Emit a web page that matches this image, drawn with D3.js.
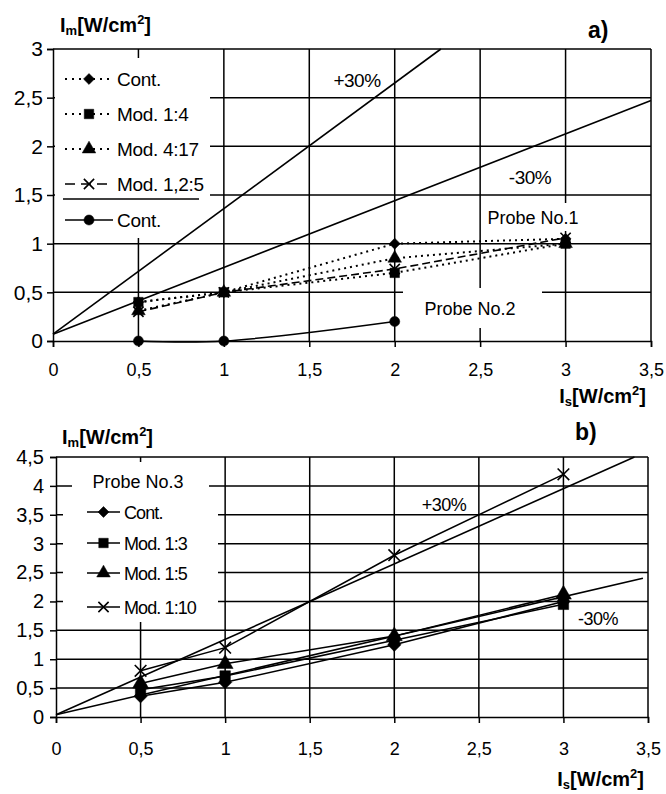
<!DOCTYPE html>
<html>
<head>
<meta charset="utf-8">
<script src="https://cdn.jsdelivr.net/npm/d3@7"></script>
<style>
  body { margin: 0; background: #fff; }
  text { font-family: Arial, "Liberation Sans", sans-serif; fill: #000; }
</style>
</head>
<body>
<div id="chart"></div>
<script>
// ---- data ----
const xTicks = [0, 0.5, 1, 1.5, 2, 2.5, 3, 3.5];
const yTicksA = [0, 0.5, 1, 1.5, 2, 2.5, 3];
const yTicksB = [0, 0.5, 1, 1.5, 2, 2.5, 3, 3.5, 4, 4.5];
const seriesX = [0.5, 1, 2, 3];

// panel a) Probe No.1 / No.2
const a_cont = [0.40, 0.50, 1.00, 1.05];
const a_mod14 = [0.40, 0.50, 0.70, 1.00];
const a_mod417 = [0.31, 0.50, 0.85, 1.00];
const a_mod125 = [0.30, 0.50, 0.74, 1.06];
const a_probe2X = [0.5, 1, 2];
const a_probe2Cont = [0.00, 0.00, 0.20];
const a_plus30 = [[0, 0.07], [2.27, 3.0]];
const a_minus30 = [[0, 0.07], [3.5, 2.47]];

// panel b) Probe No.3
const b_cont = [0.36, 0.60, 1.25, 2.00];
const b_mod13 = [0.47, 0.71, 1.33, 1.95];
const b_mod15 = [0.58, 0.92, 1.40, 2.12];
const b_mod110 = [0.80, 1.20, 2.80, 4.20];
const b_plus30 = [[0, 0.04], [3.42, 4.5]];
const b_minus30 = [[0, 0.04], [3.47, 2.40]];

const fmt = d => String(d).replace(".", ",");

const svg = d3.select("#chart").append("svg")
  .attr("width", 666).attr("height", 794);

function sym(type, size, rotate) {
  return { path: d3.symbol().type(type).size(size)(), rotate: rotate || 0 };
}
const shapes = {
  diamond: sym(d3.symbolSquare, 60, 45),
  square: sym(d3.symbolSquare, 90),
  triangle: sym(d3.symbolTriangle, 80),
  times: sym(d3.symbolTimes, 70),
  circle: sym(d3.symbolCircle, 80)
};
const shapesB = {
  diamond: sym(d3.symbolSquare, 90, 45),
  square: sym(d3.symbolSquare, 110),
  triangle: sym(d3.symbolTriangle, 110),
  times: sym(d3.symbolTimes, 90)
};

function drawMarker(g, shape, cx, cy) {
  const strokeOnly = shape === shapes.times || shape === shapesB.times;
  g.append("path")
    .attr("d", shape.path)
    .attr("transform", `translate(${cx},${cy}) rotate(${shape.rotate})`)
    .attr("fill", strokeOnly ? "none" : "#000")
    .attr("stroke", "#000")
    .attr("stroke-width", strokeOnly ? 1.6 : 0.5);
}

function drawPanel(p) {
  const x = d3.scaleLinear().domain([0, 3.5]).range([p.left, p.right]);
  const y = d3.scaleLinear().domain([0, p.yMax]).range([p.bottom, p.top]);
  const g = svg.append("g");

  // gridlines
  g.selectAll(".hgrid").data(p.yTicks.filter(d => d > 0)).join("line")
    .attr("x1", x(0)).attr("x2", x(3.5))
    .attr("y1", d => y(d)).attr("y2", d => y(d))
    .attr("stroke", "#000").attr("stroke-width", 1.5);
  g.selectAll(".vgrid").data(xTicks.filter(d => d > 0)).join("line")
    .attr("x1", d => x(d)).attr("x2", d => x(d))
    .attr("y1", y(0)).attr("y2", y(p.yMax))
    .attr("stroke", "#000").attr("stroke-width", 1.5);

  // axes
  const yAxis = g.append("g")
    .attr("transform", `translate(${x(0)},0)`)
    .call(d3.axisLeft(y).tickValues(p.yTicks).tickSize(6).tickPadding(p.yPad).tickFormat(fmt));
  const xAxis = g.append("g")
    .attr("transform", `translate(0,${y(0)})`)
    .call(d3.axisBottom(x).tickValues(xTicks).tickSize(6).tickPadding(p.xPad).tickFormat(fmt));
  [yAxis, xAxis].forEach(ax => {
    ax.select(".domain").attr("stroke-width", 1.5);
    ax.selectAll(".tick line").attr("stroke-width", 1.5);
    ax.selectAll("text").attr("font-family", "Arial, 'Liberation Sans', sans-serif");
  });
  yAxis.selectAll("text").attr("font-size", p.yFont);
  xAxis.selectAll("text").attr("font-size", p.xFont);

  // white boxes (legend and labels) hide the grid
  p.boxes.forEach(b => {
    g.append("rect").attr("x", b[0]).attr("y", b[1])
      .attr("width", b[2]).attr("height", b[3]).attr("fill", "#fff");
  });

  // +/-30% lines
  const line = d3.line().x(d => x(d[0])).y(d => y(d[1]));
  [p.plus, p.minus].forEach(pts => {
    g.append("path").attr("d", line(pts))
      .attr("fill", "none").attr("stroke", "#000").attr("stroke-width", 1.6);
  });

  // series
  p.series.forEach(s => {
    const pts = s.xs.map((v, i) => [v, s.ys[i]]);
    g.append("path")
      .attr("d", d3.line().x(d => x(d[0])).y(d => y(d[1])).curve(s.curve || d3.curveLinear)(pts))
      .attr("fill", "none").attr("stroke", "#000")
      .attr("stroke-width", s.width || 1.5)
      .attr("stroke-dasharray", s.dash || null);
  });
  p.series.forEach(s => {
    s.xs.forEach((v, i) => drawMarker(g, s.shape, x(v), y(s.ys[i])));
  });

  // legend entries
  p.legend.forEach((e, i) => {
    const ly = p.legendY[i];
    g.append("line").attr("x1", p.legendX[0]).attr("x2", p.legendX[1])
      .attr("y1", ly).attr("y2", ly)
      .attr("stroke", "#000").attr("stroke-width", e.width || 1.5)
      .attr("stroke-dasharray", e.dash || null);
    drawMarker(g, e.shape, (p.legendX[0] + p.legendX[1]) / 2, ly);
    g.append("text").attr("x", p.legendX[1] + 4).attr("y", ly + 7)
      .attr("font-size", p.legendFont)
      .attr("letter-spacing", p.legendSpacing)
      .text(e.label);
  });

  // free texts
  p.texts.forEach(t => {
    g.append("text").attr("x", t.x).attr("y", t.y)
      .attr("font-size", t.size).attr("text-anchor", t.anchor || "middle")
      .attr("letter-spacing", t.spacing || 0)
      .text(t.text);
  });

  // axis titles
  function unitTitle(tx, ty, sub, anchor) {
    const t = g.append("text").attr("x", tx).attr("y", ty)
      .attr("font-size", 20).attr("font-weight", "bold")
      .attr("text-anchor", anchor || "start");
    t.append("tspan").text("I");
    t.append("tspan").attr("font-size", 13).attr("dy", 3).text(sub);
    t.append("tspan").attr("dy", -3).text("[W/cm");
    t.append("tspan").attr("font-size", 13).attr("dy", -8).text("2");
    t.append("tspan").attr("dy", 8).text("]");
  }
  unitTitle(p.yTitle[0], p.yTitle[1], "m");
  unitTitle(p.xTitle[0], p.xTitle[1], "s", "end");

  g.append("text").attr("x", p.tag[0]).attr("y", p.tag[1])
    .attr("font-family", "'Liberation Serif', 'Times New Roman', serif")
    .attr("font-size", 23).attr("font-weight", "bold")
    .text(p.tag[2]);

  return g;
}

const gA = drawPanel({
  left: 53, right: 651, bottom: 341, top: 49, yMax: 3,
  yTicks: yTicksA, yPad: 4, xPad: 16, yFont: 21, xFont: 18,
  boxes: [[55, 58, 155, 180], [486, 203, 96, 28], [403, 288, 139, 40]],
  plus: a_plus30, minus: a_minus30,
  series: [
    { xs: seriesX, ys: a_cont, shape: shapes.diamond, dash: "2,4", width: 2 },
    { xs: seriesX, ys: a_mod14, shape: shapes.square, dash: "2,4", width: 2 },
    { xs: seriesX, ys: a_mod417, shape: shapes.triangle, dash: "2,4", width: 2 },
    { xs: seriesX, ys: a_mod125, shape: shapes.times, dash: "8,4", width: 1.6 },
    { xs: a_probe2X, ys: a_probe2Cont, shape: shapes.circle, curve: d3.curveCatmullRom }
  ],
  legend: [
    { label: "Cont.", shape: shapes.diamond, dash: "2,5", width: 2 },
    { label: "Mod. 1:4", shape: shapes.square, dash: "2,5", width: 2 },
    { label: "Mod. 4:17", shape: shapes.triangle, dash: "2,5", width: 2 },
    { label: "Mod. 1,2:5", shape: shapes.times, dash: "10,6" },
    { label: "Cont.", shape: shapes.circle }
  ],
  legendX: [65, 113], legendY: [79, 114, 149, 184, 220],
  legendFont: 19, legendSpacing: -0.3,
  texts: [
    { text: "+30%", x: 357, y: 87, size: 19, spacing: -0.5 },
    { text: "-30%", x: 530, y: 184, size: 19, spacing: -0.5 },
    { text: "Probe No.1", x: 533, y: 224, size: 18 },
    { text: "Probe No.2", x: 470, y: 315, size: 18 }
  ],
  yTitle: [60, 32], xTitle: [646, 403], tag: [588, 38, "a)"]
});
// separator under the first legend block
gA.append("line").attr("x1", 63).attr("x2", 199).attr("y1", 199).attr("y2", 199)
  .attr("stroke", "#000").attr("stroke-width", 1.5);

drawPanel({
  left: 56, right: 648, bottom: 717, top: 457, yMax: 4.5,
  yTicks: yTicksB, yPad: 6, xPad: 19, yFont: 20, xFont: 18,
  boxes: [[72, 462, 137, 34], [63, 496, 155, 126]],
  plus: b_plus30, minus: b_minus30,
  series: [
    { xs: seriesX, ys: b_cont, shape: shapesB.diamond },
    { xs: seriesX, ys: b_mod13, shape: shapesB.square },
    { xs: seriesX, ys: b_mod15, shape: shapesB.triangle },
    { xs: seriesX, ys: b_mod110, shape: shapesB.times }
  ],
  legend: [
    { label: "Cont.", shape: shapes.diamond },
    { label: "Mod. 1:3", shape: shapes.square },
    { label: "Mod. 1:5", shape: shapes.triangle },
    { label: "Mod. 1:10", shape: shapes.times }
  ],
  legendX: [87, 120], legendY: [512, 543, 573, 607],
  legendFont: 18, legendSpacing: -0.9,
  texts: [
    { text: "Probe No.3", x: 138, y: 488, size: 18 },
    { text: "+30%", x: 444, y: 511, size: 18, spacing: -0.5 },
    { text: "-30%", x: 598, y: 625, size: 18, spacing: -0.5 }
  ],
  yTitle: [62, 444], xTitle: [644, 786], tag: [575, 440, "b)"]
});
</script>
</body>
</html>
